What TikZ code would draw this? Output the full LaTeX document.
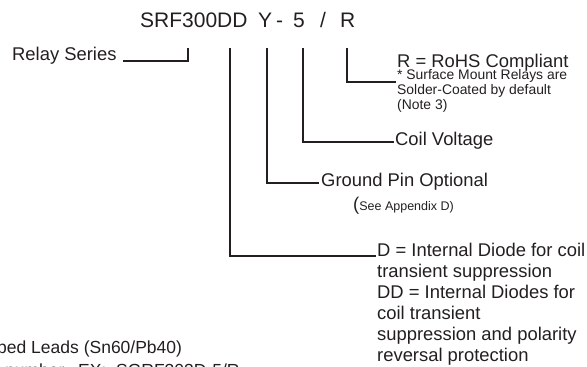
\documentclass[tikz,border=0pt]{standalone}
\usepackage{fontspec}
\setmainfont{Liberation Sans}
\definecolor{ink}{HTML}{231F20}

\begin{document}
\begin{tikzpicture}
    [x=1pt, y=-1pt, color=ink,
     codice/.style={font=\fontsize{21}{25}\selectfont, anchor=base west, inner sep=0pt},
     voce/.style={font=\fontsize{18.4}{21}\selectfont, anchor=base west, inner sep=0pt, align=left},
     nota/.style={font=\fontsize{13.9}{15}\selectfont, anchor=base west, inner sep=0pt, align=left},
     filo/.style={line width=1.5pt}]
    \clip (0,0) rectangle (587,367);

    % codice del relay
    \node[codice] (serie) at (140,27) {SRF300DD};
    \node[codice] (massa) at (258,27) {Y};
    \node[codice] (trat) at (276,27) {-};
    \node[codice] (tens) at (293,27) {5};
    \node[codice] (sbarra) at (320,27) {/};
    \node[codice] (rohs) at (340,27) {R};

    \coordinate (tS) at (188,48);   \coordinate (eS) at (123,61);
    \coordinate (tDD) at (230,48);  \coordinate (eDD) at (376,256);
    \coordinate (tY) at (267,48);   \coordinate (eY) at (319,183);
    \coordinate (t5) at (303,48);   \coordinate (e5) at (394,142);
    \coordinate (tR) at (347,48);   \coordinate (eR) at (396,82);

    \draw[filo] (tS) |- (eS);
    \draw[filo] (tDD) |- (eDD);
    \draw[filo] (tY) |- (eY);
    \draw[filo] (t5) |- (e5);
    \draw[filo] (tR) |- (eR);

    % descrizioni (base = ultima riga)
    \node[voce] (lserie) at (12,60) {Relay Series};
    \node[voce, anchor=west] (lmassa) at (321,182) {Ground Pin Optional};
    \node[nota, font=\fontsize{12.5}{14}\selectfont] (lapp) at (353,210)
        {{\fontsize{18.4}{20}\selectfont(}See Appendix D)};
    \node[voce, anchor=west] (ltens) at (395,141) {Coil Voltage};
    \node[voce] (lrohs) at (397,67) {R = RoHS Compliant};
    \node[nota] (lnota) at (397,109) {* Surface Mount Relays are\\Solder-Coated by default\\(Note 3)};
    \node[voce] (ldiodi) at (377,361) {D = Internal Diode for coil\\transient suppression\\DD = Internal Diodes for\\coil transient\\suppression and polarity\\reversal protection};

    \node[voce, font=\fontsize{17.5}{21}\selectfont] (lpiombo) at (-3,353) {ped Leads (Sn60/Pb40)};
    \node[voce, font=\fontsize{17.5}{21}\selectfont] (lesempio) at (5,376) {number.~~EX:~~SGRF303D-5/R};

\end{tikzpicture}
\end{document}
